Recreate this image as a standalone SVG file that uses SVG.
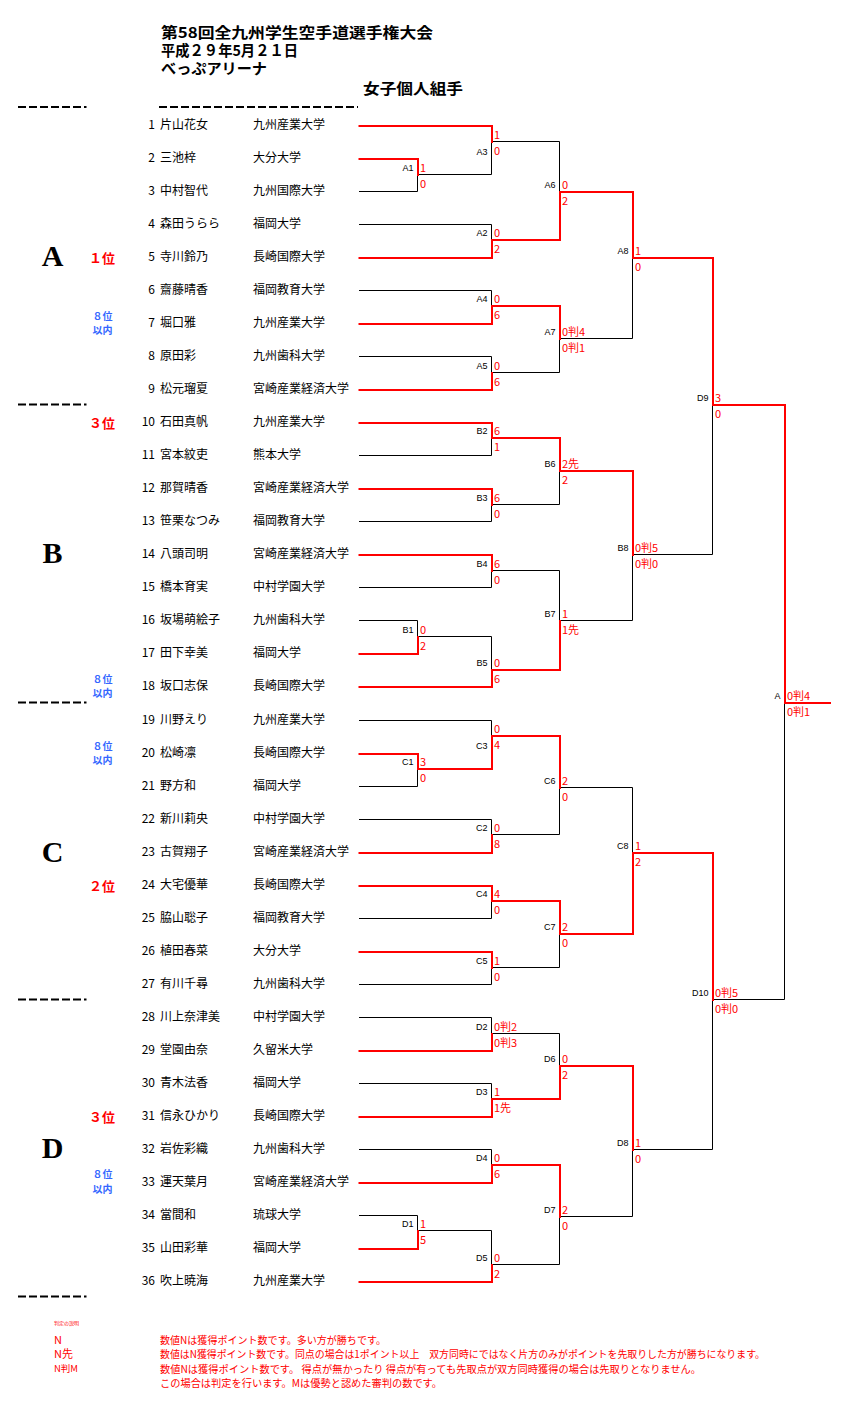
<svg xmlns="http://www.w3.org/2000/svg" width="843" height="1411" viewBox="0 0 843 1411">
<style>
text{font-family:"Noto Sans CJK JP","Noto Sans CJK SC",sans-serif}
.bk{stroke:#000;stroke-width:1;fill:none}
.rd{stroke:#f00;stroke-width:2;fill:none;stroke-linecap:square;stroke-linejoin:miter}
.ds{stroke:#000;stroke-width:2;stroke-dasharray:8 3}
.ttl{font-size:15px;font-weight:bold;fill:#000}
.pn{font-size:12px;fill:#000;text-anchor:end}
.pt{font-size:12px;fill:#000}
.sc{font-size:11px;fill:#f00}
.lb{font-family:"Liberation Sans",Arial,sans-serif;font-size:9px;fill:#000;text-anchor:end}
.blk{font-family:"Liberation Serif","Times New Roman",serif;font-size:30px;font-weight:bold;fill:#000;text-anchor:middle}
.rk{font-size:13px;font-weight:bold;fill:#f00}
.q8{font-size:10px;font-weight:bold;fill:#3366ff;text-anchor:middle}
.ft{font-size:10px;fill:#f00}
</style>
<rect width="843" height="1411" fill="#fff"/>
<g id="header">
<text class="ttl" x="161" y="37.5" textLength="272" lengthAdjust="spacingAndGlyphs">第58回全九州学生空手道選手権大会</text>
<text class="ttl" x="161" y="55.5" textLength="137" lengthAdjust="spacingAndGlyphs">平成２９年5月２１日</text>
<text class="ttl" x="161" y="73.5" textLength="106" lengthAdjust="spacingAndGlyphs">べっぷアリーナ</text>
<text class="ttl" x="363" y="94" textLength="100" lengthAdjust="spacingAndGlyphs">女子個人組手</text>
<line class="ds" x1="18" y1="107" x2="86.5" y2="107"/>
<line class="ds" x1="159" y1="107" x2="358" y2="107"/>
<line class="ds" x1="18" y1="404.5" x2="86.5" y2="404.5"/>
<line class="ds" x1="18" y1="702.5" x2="86.5" y2="702.5"/>
<line class="ds" x1="18" y1="999.5" x2="86.5" y2="999.5"/>
<line class="ds" x1="18" y1="1296.5" x2="86.5" y2="1296.5"/>
</g>
<g id="blocks">
<text class="blk" x="52.5" y="265.5">A</text>
<text class="blk" x="52.5" y="563">B</text>
<text class="blk" x="52.5" y="861.5">C</text>
<text class="blk" x="52.5" y="1158">D</text>
<text class="rk" x="89" y="262.5">１位</text>
<text class="rk" x="89" y="427.5">３位</text>
<text class="rk" x="89" y="890.5">２位</text>
<text class="rk" x="89" y="1121.5">３位</text>
<text class="q8" x="102.5" y="320">８位</text><text class="q8" x="102.5" y="334">以内</text>
<text class="q8" x="102.5" y="683">８位</text><text class="q8" x="102.5" y="697">以内</text>
<text class="q8" x="102.5" y="749.5">８位</text><text class="q8" x="102.5" y="764">以内</text>
<text class="q8" x="102.5" y="1178">８位</text><text class="q8" x="102.5" y="1192.5">以内</text>
</g>
<g id="players">
<g id="p1"><text class="pn" x="155" y="129">1</text><text class="pt" x="160" y="129">片山花女</text><text class="pt" x="253" y="129">九州産業大学</text></g>
<g id="p2"><text class="pn" x="155" y="162">2</text><text class="pt" x="160" y="162">三池梓</text><text class="pt" x="253" y="162">大分大学</text></g>
<g id="p3"><text class="pn" x="155" y="195">3</text><text class="pt" x="160" y="195">中村智代</text><text class="pt" x="253" y="195">九州国際大学</text></g>
<g id="p4"><text class="pn" x="155" y="228">4</text><text class="pt" x="160" y="228">森田うらら</text><text class="pt" x="253" y="228">福岡大学</text></g>
<g id="p5"><text class="pn" x="155" y="261">5</text><text class="pt" x="160" y="261">寺川鈴乃</text><text class="pt" x="253" y="261">長崎国際大学</text></g>
<g id="p6"><text class="pn" x="155" y="294">6</text><text class="pt" x="160" y="294">齋藤晴香</text><text class="pt" x="253" y="294">福岡教育大学</text></g>
<g id="p7"><text class="pn" x="155" y="327">7</text><text class="pt" x="160" y="327">堀口雅</text><text class="pt" x="253" y="327">九州産業大学</text></g>
<g id="p8"><text class="pn" x="155" y="360">8</text><text class="pt" x="160" y="360">原田彩</text><text class="pt" x="253" y="360">九州歯科大学</text></g>
<g id="p9"><text class="pn" x="155" y="393">9</text><text class="pt" x="160" y="393">松元瑠夏</text><text class="pt" x="253" y="393">宮崎産業経済大学</text></g>
<g id="p10"><text class="pn" x="155" y="426">10</text><text class="pt" x="160" y="426">石田真帆</text><text class="pt" x="253" y="426">九州産業大学</text></g>
<g id="p11"><text class="pn" x="155" y="459">11</text><text class="pt" x="160" y="459">宮本紋吏</text><text class="pt" x="253" y="459">熊本大学</text></g>
<g id="p12"><text class="pn" x="155" y="492">12</text><text class="pt" x="160" y="492">那賀晴香</text><text class="pt" x="253" y="492">宮崎産業経済大学</text></g>
<g id="p13"><text class="pn" x="155" y="525">13</text><text class="pt" x="160" y="525">笹栗なつみ</text><text class="pt" x="253" y="525">福岡教育大学</text></g>
<g id="p14"><text class="pn" x="155" y="558">14</text><text class="pt" x="160" y="558">八頭司明</text><text class="pt" x="253" y="558">宮崎産業経済大学</text></g>
<g id="p15"><text class="pn" x="155" y="591">15</text><text class="pt" x="160" y="591">橋本育実</text><text class="pt" x="253" y="591">中村学園大学</text></g>
<g id="p16"><text class="pn" x="155" y="624">16</text><text class="pt" x="160" y="624">坂場萌絵子</text><text class="pt" x="253" y="624">九州歯科大学</text></g>
<g id="p17"><text class="pn" x="155" y="657">17</text><text class="pt" x="160" y="657">田下幸美</text><text class="pt" x="253" y="657">福岡大学</text></g>
<g id="p18"><text class="pn" x="155" y="690">18</text><text class="pt" x="160" y="690">坂口志保</text><text class="pt" x="253" y="690">長崎国際大学</text></g>
<g id="p19"><text class="pn" x="155" y="724">19</text><text class="pt" x="160" y="724">川野えり</text><text class="pt" x="253" y="724">九州産業大学</text></g>
<g id="p20"><text class="pn" x="155" y="757">20</text><text class="pt" x="160" y="757">松崎凛</text><text class="pt" x="253" y="757">長崎国際大学</text></g>
<g id="p21"><text class="pn" x="155" y="790">21</text><text class="pt" x="160" y="790">野方和</text><text class="pt" x="253" y="790">福岡大学</text></g>
<g id="p22"><text class="pn" x="155" y="823">22</text><text class="pt" x="160" y="823">新川莉央</text><text class="pt" x="253" y="823">中村学園大学</text></g>
<g id="p23"><text class="pn" x="155" y="856">23</text><text class="pt" x="160" y="856">古賀翔子</text><text class="pt" x="253" y="856">宮崎産業経済大学</text></g>
<g id="p24"><text class="pn" x="155" y="889">24</text><text class="pt" x="160" y="889">大宅優華</text><text class="pt" x="253" y="889">長崎国際大学</text></g>
<g id="p25"><text class="pn" x="155" y="922">25</text><text class="pt" x="160" y="922">脇山聡子</text><text class="pt" x="253" y="922">福岡教育大学</text></g>
<g id="p26"><text class="pn" x="155" y="955">26</text><text class="pt" x="160" y="955">植田春菜</text><text class="pt" x="253" y="955">大分大学</text></g>
<g id="p27"><text class="pn" x="155" y="988">27</text><text class="pt" x="160" y="988">有川千尋</text><text class="pt" x="253" y="988">九州歯科大学</text></g>
<g id="p28"><text class="pn" x="155" y="1021">28</text><text class="pt" x="160" y="1021">川上奈津美</text><text class="pt" x="253" y="1021">中村学園大学</text></g>
<g id="p29"><text class="pn" x="155" y="1054">29</text><text class="pt" x="160" y="1054">堂園由奈</text><text class="pt" x="253" y="1054">久留米大学</text></g>
<g id="p30"><text class="pn" x="155" y="1087">30</text><text class="pt" x="160" y="1087">青木法香</text><text class="pt" x="253" y="1087">福岡大学</text></g>
<g id="p31"><text class="pn" x="155" y="1120">31</text><text class="pt" x="160" y="1120">信永ひかり</text><text class="pt" x="253" y="1120">長崎国際大学</text></g>
<g id="p32"><text class="pn" x="155" y="1153">32</text><text class="pt" x="160" y="1153">岩佐彩織</text><text class="pt" x="253" y="1153">九州歯科大学</text></g>
<g id="p33"><text class="pn" x="155" y="1186">33</text><text class="pt" x="160" y="1186">運天葉月</text><text class="pt" x="253" y="1186">宮崎産業経済大学</text></g>
<g id="p34"><text class="pn" x="155" y="1219">34</text><text class="pt" x="160" y="1219">當間和</text><text class="pt" x="253" y="1219">琉球大学</text></g>
<g id="p35"><text class="pn" x="155" y="1252">35</text><text class="pt" x="160" y="1252">山田彩華</text><text class="pt" x="253" y="1252">福岡大学</text></g>
<g id="p36"><text class="pn" x="155" y="1285">36</text><text class="pt" x="160" y="1285">吹上暁海</text><text class="pt" x="253" y="1285">九州産業大学</text></g>
</g>
<g id="connectors">
<g class="bk">
<path d="M359 158.5H417.5V191.5H359"/>
<path d="M359 125.5H491.5V174.5H417.5"/>
<path d="M359 224.5H491.5V257.5H359"/>
<path d="M491.5 141.5H559.5V239.5H491.5"/>
<path d="M359 290.5H491.5V323.5H359"/>
<path d="M359 356.5H491.5V389.5H359"/>
<path d="M491.5 305.5H559.5V372.5H491.5"/>
<path d="M559.5 191.5H632.5V338.5H559.5"/>
<path d="M359 422.5H491.5V455.5H359"/>
<path d="M359 488.5H491.5V521.5H359"/>
<path d="M491.5 437.5H559.5V504.5H491.5"/>
<path d="M359 554.5H491.5V587.5H359"/>
<path d="M359 620.5H417.5V653.5H359"/>
<path d="M417.5 636.5H491.5V686.5H359"/>
<path d="M491.5 570.5H559.5V669.5H491.5"/>
<path d="M559.5 470.5H632.5V620.5H559.5"/>
<path d="M632.5 257.5H712.5V554.5H632.5"/>
<path d="M359 753.5H417.5V786.5H359"/>
<path d="M359 720.5H491.5V768.5H417.5"/>
<path d="M359 819.5H491.5V852.5H359"/>
<path d="M491.5 735.5H559.5V834.5H491.5"/>
<path d="M359 885.5H491.5V918.5H359"/>
<path d="M359 951.5H491.5V984.5H359"/>
<path d="M491.5 900.5H559.5V967.5H491.5"/>
<path d="M559.5 787.5H632.5V933.5H559.5"/>
<path d="M359 1017.5H491.5V1050.5H359"/>
<path d="M359 1083.5H491.5V1116.5H359"/>
<path d="M491.5 1033.5H559.5V1098.5H491.5"/>
<path d="M359 1149.5H491.5V1182.5H359"/>
<path d="M359 1215.5H417.5V1248.5H359"/>
<path d="M417.5 1230.5H491.5V1281.5H359"/>
<path d="M491.5 1164.5H559.5V1264.5H491.5"/>
<path d="M559.5 1065.5H632.5V1216.5H559.5"/>
<path d="M632.5 852.5H712.5V1149.5H632.5"/>
<path d="M712.5 404.5H784.5V999.5H712.5"/>
</g>
<g class="rd" transform="translate(0.5,0.5)">
<path d="M359 158.5H417.5V174.5"/>
<path d="M359 125.5H491.5V141.5"/>
<path d="M359 257.5H491.5V239.5"/>
<path d="M491.5 239.5H559.5V191.5"/>
<path d="M359 323.5H491.5V305.5"/>
<path d="M359 389.5H491.5V372.5"/>
<path d="M491.5 305.5H559.5V338.5"/>
<path d="M559.5 191.5H632.5V257.5"/>
<path d="M359 422.5H491.5V437.5"/>
<path d="M359 488.5H491.5V504.5"/>
<path d="M491.5 437.5H559.5V470.5"/>
<path d="M359 554.5H491.5V570.5"/>
<path d="M359 653.5H417.5V636.5"/>
<path d="M359 686.5H491.5V669.5"/>
<path d="M491.5 669.5H559.5V620.5"/>
<path d="M559.5 470.5H632.5V554.5"/>
<path d="M632.5 257.5H712.5V404.5"/>
<path d="M359 753.5H417.5V768.5"/>
<path d="M417.5 768.5H491.5V735.5"/>
<path d="M359 852.5H491.5V834.5"/>
<path d="M491.5 735.5H559.5V787.5"/>
<path d="M359 885.5H491.5V900.5"/>
<path d="M359 951.5H491.5V967.5"/>
<path d="M491.5 900.5H559.5V933.5"/>
<path d="M559.5 933.5H632.5V852.5"/>
<path d="M359 1050.5H491.5V1033.5"/>
<path d="M359 1116.5H491.5V1098.5"/>
<path d="M491.5 1098.5H559.5V1065.5"/>
<path d="M359 1182.5H491.5V1164.5"/>
<path d="M359 1248.5H417.5V1230.5"/>
<path d="M359 1281.5H491.5V1264.5"/>
<path d="M491.5 1164.5H559.5V1216.5"/>
<path d="M559.5 1065.5H632.5V1149.5"/>
<path d="M632.5 852.5H712.5V999.5"/>
<path d="M712.5 404.5H784.5V702.5H829.5"/>
</g>
</g>
<g id="matches">
<g id="mA1"><text class="lb" x="413.5" y="170.8">A1</text><text class="sc" x="420" y="171.5">1</text><text class="sc" x="420" y="187.8">0</text></g>
<g id="mA3"><text class="lb" x="487.5" y="154.8">A3</text><text class="sc" x="494" y="138.5">1</text><text class="sc" x="494" y="154.8">0</text></g>
<g id="mA2"><text class="lb" x="487.5" y="235.8">A2</text><text class="sc" x="494" y="236.5">0</text><text class="sc" x="494" y="252.8">2</text></g>
<g id="mA6"><text class="lb" x="555.5" y="187.8">A6</text><text class="sc" x="562" y="188.5">0</text><text class="sc" x="562" y="204.8">2</text></g>
<g id="mA4"><text class="lb" x="487.5" y="301.8">A4</text><text class="sc" x="494" y="302.5">0</text><text class="sc" x="494" y="318.8">6</text></g>
<g id="mA5"><text class="lb" x="487.5" y="368.8">A5</text><text class="sc" x="494" y="369.5">0</text><text class="sc" x="494" y="385.8">6</text></g>
<g id="mA7"><text class="lb" x="555.5" y="334.8">A7</text><text class="sc" x="562" y="335.5">0判4</text><text class="sc" x="562" y="351.8">0判1</text></g>
<g id="mA8"><text class="lb" x="628.5" y="253.8">A8</text><text class="sc" x="635" y="254.5">1</text><text class="sc" x="635" y="270.8">0</text></g>
<g id="mD9"><text class="lb" x="708.5" y="400.8">D9</text><text class="sc" x="715" y="401.5">3</text><text class="sc" x="715" y="417.8">0</text></g>
<g id="mB2"><text class="lb" x="487.5" y="433.8">B2</text><text class="sc" x="494" y="434.5">6</text><text class="sc" x="494" y="450.8">1</text></g>
<g id="mB3"><text class="lb" x="487.5" y="500.8">B3</text><text class="sc" x="494" y="501.5">6</text><text class="sc" x="494" y="517.8">0</text></g>
<g id="mB6"><text class="lb" x="555.5" y="466.8">B6</text><text class="sc" x="562" y="467.5">2先</text><text class="sc" x="562" y="483.8">2</text></g>
<g id="mB4"><text class="lb" x="487.5" y="566.8">B4</text><text class="sc" x="494" y="567.5">6</text><text class="sc" x="494" y="583.8">0</text></g>
<g id="mB1"><text class="lb" x="413.5" y="632.8">B1</text><text class="sc" x="420" y="633.5">0</text><text class="sc" x="420" y="649.8">2</text></g>
<g id="mB5"><text class="lb" x="487.5" y="665.8">B5</text><text class="sc" x="494" y="666.5">0</text><text class="sc" x="494" y="682.8">6</text></g>
<g id="mB7"><text class="lb" x="555.5" y="616.8">B7</text><text class="sc" x="562" y="617.5">1</text><text class="sc" x="562" y="633.8">1先</text></g>
<g id="mB8"><text class="lb" x="628.5" y="550.8">B8</text><text class="sc" x="635" y="551.5">0判5</text><text class="sc" x="635" y="567.8">0判0</text></g>
<g id="mFinal"><text class="lb" x="780.5" y="698.8">A</text><text class="sc" x="787" y="699.5">0判4</text><text class="sc" x="787" y="715.8">0判1</text></g>
<g id="mC1"><text class="lb" x="413.5" y="764.8">C1</text><text class="sc" x="420" y="765.5">3</text><text class="sc" x="420" y="781.8">0</text></g>
<g id="mC3"><text class="lb" x="487.5" y="748.8">C3</text><text class="sc" x="494" y="732.5">0</text><text class="sc" x="494" y="748.8">4</text></g>
<g id="mC2"><text class="lb" x="487.5" y="830.8">C2</text><text class="sc" x="494" y="831.5">0</text><text class="sc" x="494" y="847.8">8</text></g>
<g id="mC6"><text class="lb" x="555.5" y="783.8">C6</text><text class="sc" x="562" y="784.5">2</text><text class="sc" x="562" y="800.8">0</text></g>
<g id="mC4"><text class="lb" x="487.5" y="896.8">C4</text><text class="sc" x="494" y="897.5">4</text><text class="sc" x="494" y="913.8">0</text></g>
<g id="mC5"><text class="lb" x="487.5" y="963.8">C5</text><text class="sc" x="494" y="964.5">1</text><text class="sc" x="494" y="980.8">0</text></g>
<g id="mC7"><text class="lb" x="555.5" y="929.8">C7</text><text class="sc" x="562" y="930.5">2</text><text class="sc" x="562" y="946.8">0</text></g>
<g id="mC8"><text class="lb" x="628.5" y="848.8">C8</text><text class="sc" x="635" y="849.5">1</text><text class="sc" x="635" y="865.8">2</text></g>
<g id="mD10"><text class="lb" x="708.5" y="995.8">D10</text><text class="sc" x="715" y="996.5">0判5</text><text class="sc" x="715" y="1012.8">0判0</text></g>
<g id="mD2"><text class="lb" x="487.5" y="1029.8">D2</text><text class="sc" x="494" y="1030.5">0判2</text><text class="sc" x="494" y="1046.8">0判3</text></g>
<g id="mD3"><text class="lb" x="487.5" y="1094.8">D3</text><text class="sc" x="494" y="1095.5">1</text><text class="sc" x="494" y="1111.8">1先</text></g>
<g id="mD6"><text class="lb" x="555.5" y="1061.8">D6</text><text class="sc" x="562" y="1062.5">0</text><text class="sc" x="562" y="1078.8">2</text></g>
<g id="mD4"><text class="lb" x="487.5" y="1160.8">D4</text><text class="sc" x="494" y="1161.5">0</text><text class="sc" x="494" y="1177.8">6</text></g>
<g id="mD1"><text class="lb" x="413.5" y="1226.8">D1</text><text class="sc" x="420" y="1227.5">1</text><text class="sc" x="420" y="1243.8">5</text></g>
<g id="mD5"><text class="lb" x="487.5" y="1260.8">D5</text><text class="sc" x="494" y="1261.5">0</text><text class="sc" x="494" y="1277.8">2</text></g>
<g id="mD7"><text class="lb" x="555.5" y="1212.8">D7</text><text class="sc" x="562" y="1213.5">2</text><text class="sc" x="562" y="1229.8">0</text></g>
<g id="mD8"><text class="lb" x="628.5" y="1145.8">D8</text><text class="sc" x="635" y="1146.5">1</text><text class="sc" x="635" y="1162.8">0</text></g>
</g>
<g id="legend">
<text class="ft" x="54" y="1325" style="font-size:5px">判定の説明</text>
<text class="ft" x="54" y="1343.5" style="font-size:11px">N</text>
<text class="ft" x="54" y="1358" style="font-size:11px">N先</text>
<text class="ft" x="54" y="1372" style="font-size:9.5px">N判M</text>
<text class="ft" x="160" y="1343.5" textLength="226" lengthAdjust="spacingAndGlyphs">数値Nは獲得ポイント数です。多い方が勝ちです。</text>
<text class="ft" x="160" y="1357.5" textLength="605" lengthAdjust="spacingAndGlyphs">数値はN獲得ポイント数です。同点の場合は1ポイント以上　双方同時にではなく片方のみがポイントを先取りした方が勝ちになります。</text>
<text class="ft" x="160" y="1373" textLength="541" lengthAdjust="spacingAndGlyphs">数値Nは獲得ポイント数です。 得点が無かったり 得点が有っても先取点が双方同時獲得の場合は先取りとなりません。</text>
<text class="ft" x="160" y="1387" textLength="282" lengthAdjust="spacingAndGlyphs">この場合は判定を行います。Mは優勢と認めた審判の数です。</text>
</g>
</svg>
